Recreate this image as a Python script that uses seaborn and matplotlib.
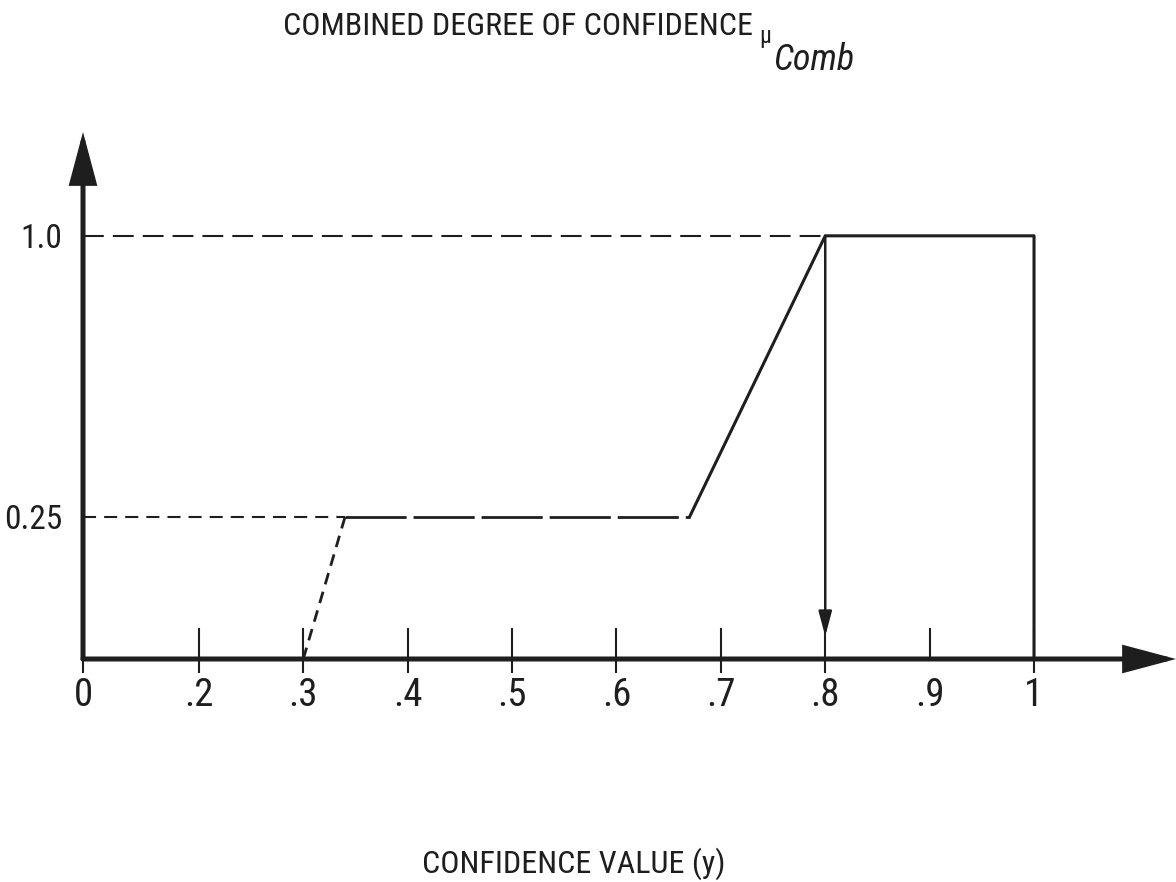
import numpy as np
import pandas as pd
import matplotlib
matplotlib.use("Agg")
import matplotlib.pyplot as plt
from matplotlib import font_manager
import seaborn as sns

# ---------------- data ----------------
x_tick_values = [0.0, 0.2, 0.3, 0.4, 0.5, 0.6, 0.7, 0.8, 0.9, 1.0]
x_tick_labels = ["0", ".2", ".3", ".4", ".5", ".6", ".7", ".8", ".9", "1"]
y_tick_values = [0.25, 1.0]
y_tick_labels = ["0.25", "1.0"]

# dashed part of the membership curve
dashed_x = [0.30, 0.34, 0.67]
dashed_y = [0.00, 0.25, 0.25]
# solid part of the membership curve
solid_x = [0.67, 0.80, 1.00, 1.00]
solid_y = [0.25, 1.00, 1.00, 0.00]
# dashed reference levels and where they end
ref_levels = [1.0, 0.25]
ref_ends = [0.80, 0.34]
# vertical arrow (defuzzified value)
arrow_x = 0.80
arrow_top = 1.0
arrow_tip = 0.04

title_text = "COMBINED DEGREE OF CONFIDENCE"
xlabel_text = "CONFIDENCE VALUE (y)"

# ---------------- style ----------------
sns.set_theme(style="white")
names = {f.name for f in font_manager.fontManager.ttflist}
cond = next((n for n in ["Roboto Condensed", "Liberation Sans Narrow",
                         "Open Sans Condensed"] if n in names), "DejaVu Sans")
plt.rcParams["font.family"] = [cond, "DejaVu Sans"]
plt.rcParams["font.stretch"] = "condensed"
plt.rcParams["lines.scale_dashes"] = False

INK = "#1e1e1e"
W, H = 1176, 882

fig = plt.figure(figsize=(W / 100, H / 100), dpi=100)
ax = fig.add_axes([83 / W, (H - 659) / H, (W - 83) / W, (659 - 132) / H])

# schematic (non-uniform) scales as drawn in the original figure
gx = 1.11
def fx(v):
    v = np.asarray(v, dtype=float)
    return np.where(v < 0.2, v * 5 * gx, gx + (v - 0.2) * 10)
def fx_inv(u):
    u = np.asarray(u, dtype=float)
    return np.where(u < gx, u / (5 * gx), 0.2 + (u - gx) / 10)
gy = 0.379
def fy(v):
    v = np.asarray(v, dtype=float)
    return np.where(v < 0.25, v * 4 * gy, gy + (v - 0.25))
def fy_inv(u):
    u = np.asarray(u, dtype=float)
    return np.where(u < gy, u / (4 * gy), 0.25 + (u - gy))

ax.set_xscale("function", functions=(fx, fx_inv))
ax.set_yscale("function", functions=(fy, fy_inv))
ax.set_xlim(0, 1.136)
ax.set_ylim(0, 1.277)

# reference dashed lines
ref_dashes = [(15, 6.5), (9.4, 5.8)]
for lvl, end, dsh in zip(ref_levels, ref_ends, ref_dashes):
    sns.lineplot(x=[0, end], y=[lvl, lvl], ax=ax, color=INK, lw=1.5,
                 estimator=None, sort=False, legend=False)
    ax.lines[-1].set_dashes(dsh)

# dashed segments of the curve
seg_dashes = [(8.5, 5.5), (44, 5)]
for i, dsh in enumerate(seg_dashes):
    sns.lineplot(x=dashed_x[i:i + 2], y=dashed_y[i:i + 2], ax=ax, color=INK,
                 lw=2.0, estimator=None, sort=False, legend=False)
    ax.lines[-1].set_dashes(dsh)

# solid part
df_solid = pd.DataFrame({"x": solid_x, "y": solid_y})
sns.lineplot(data=df_solid, x="x", y="y", ax=ax, color=INK, lw=2.2,
             estimator=None, sort=False, legend=False)

# downward arrow at defuzzified value
ax.annotate("", xy=(arrow_x, arrow_tip), xytext=(arrow_x, arrow_top),
            arrowprops=dict(arrowstyle="-|>,head_length=15,head_width=4",
                            mutation_scale=1, lw=1.8, color=INK,
                            shrinkA=0, shrinkB=0))

# axes drawn as arrows
for tip in [(1, 0), (0, 1)]:
    ax.annotate("", xy=tip, xytext=(0, 0), xycoords="axes fraction",
                textcoords="axes fraction", annotation_clip=False,
                arrowprops=dict(arrowstyle="-|>,head_length=30,head_width=8",
                                mutation_scale=1, lw=3.6, color=INK,
                                shrinkA=0, shrinkB=0, joinstyle="miter"))

for s in ax.spines.values():
    s.set_visible(False)

ax.set_xticks(x_tick_values, x_tick_labels)
ax.set_xticks([v for v in x_tick_values if v != 0.9], minor=True)
ax.xaxis.remove_overlapping_locs = False
ax.tick_params(axis="x", which="major", direction="in", length=22, width=1.5,
               color=INK, pad=13, labelsize=28, labelcolor=INK, bottom=True)
ax.tick_params(axis="x", which="minor", direction="out", length=10, width=1.5,
               color=INK, bottom=True)
ax.set_yticks(y_tick_values, y_tick_labels)
ax.yaxis.set_minor_locator(matplotlib.ticker.NullLocator())
ax.tick_params(axis="y", which="both", length=0, pad=15, labelsize=24,
               labelcolor=INK, left=True)
ax.set_xlabel("")
ax.set_ylabel("")
ax.grid(False)

# texts
fig.text(518 / W, 1 - 35 / H, title_text, ha="center", va="baseline",
         fontsize=23, color=INK)
fig.text(759 / W, 1 - 43 / H, "μ", ha="left", va="baseline", fontsize=17,
         color=INK)
fig.text(773 / W, 1 - 70 / H, "Comb", ha="left", va="baseline", fontsize=26,
         style="italic", color=INK)
fig.text(574 / W, 1 - 873 / H, xlabel_text, ha="center", va="baseline",
         fontsize=23, color=INK)

fig.savefig("out.png", dpi=100)
